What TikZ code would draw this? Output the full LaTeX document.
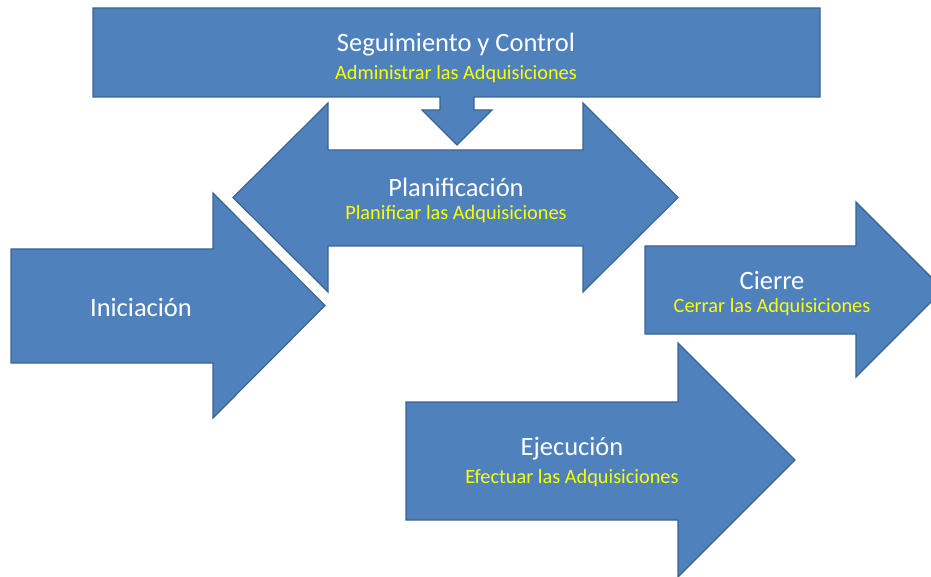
\documentclass[tikz,border=0pt]{standalone}
\usepackage{fontspec}
\setmainfont{Carlito}
\definecolor{blockblue}{HTML}{4F81BD}
\definecolor{blockedge}{HTML}{3A6494}
\definecolor{subyellow}{HTML}{FFFF00}
\begin{document}
\begin{tikzpicture}[x=1pt,y=-1pt,
  block/.style={fill=blockblue,draw=blockedge,line width=1.2pt,line join=miter},
  phase/.style={text=white,font=\fontsize{26.5}{30}\selectfont,inner sep=0pt},
  task/.style={text=subyellow,font=\fontsize{20.3}{24}\selectfont,inner sep=0pt}]
\useasboundingbox (0,0) rectangle (931,577);
\clip (0,0) rectangle (931,577);

% Seguimiento y Control: bar with a small arrow pointing down
\draw[block] (93,8) -- (820,8) -- (820,97) -- (474,97) -- (474,110) -- (492,110)
  -- (457,145) -- (422,110) -- (440,110) -- (440,97) -- (93,97) -- cycle;

% Planificación: double-headed arrow
\draw[block] (233,197.5) -- (328,103) -- (328,150) -- (583,150) -- (583,103)
  -- (678,197.5) -- (583,292) -- (583,246) -- (328,246) -- (328,292) -- cycle;

% Iniciación
\draw[block] (11,249) -- (213,249) -- (213,193) -- (325,305.5) -- (213,418)
  -- (213,363) -- (11,363) -- cycle;

% Cierre
\draw[block] (645,246) -- (856,246) -- (856,202) -- (943.5,289.5) -- (856,377)
  -- (856,334) -- (645,334) -- cycle;

% Ejecución
\draw[block] (406,402) -- (678,402) -- (678,343) -- (795,460) -- (678,577)
  -- (678,520) -- (406,520) -- cycle;

% labels
\node[phase] (segT) at (456,45) {Seguimiento y Control};
\node[task]  (segS) at (456,74.5) {Administrar las Adquisiciones};
\node[phase] (plaT) at (456,187) {Planificación};
\node[task]  (plaS) at (456,214.5) {Planificar las Adquisiciones};
\node[phase] (iniT) at (141,307) {Iniciación};
\node[phase] (cieT) at (772,280) {Cierre};
\node[task]  (cieS) at (772,307.5) {Cerrar las Adquisiciones};
\node[phase] (ejeT) at (572,449) {Ejecución};
\node[task]  (ejeS) at (572,478) {Efectuar las Adquisiciones};
\end{tikzpicture}
\end{document}
